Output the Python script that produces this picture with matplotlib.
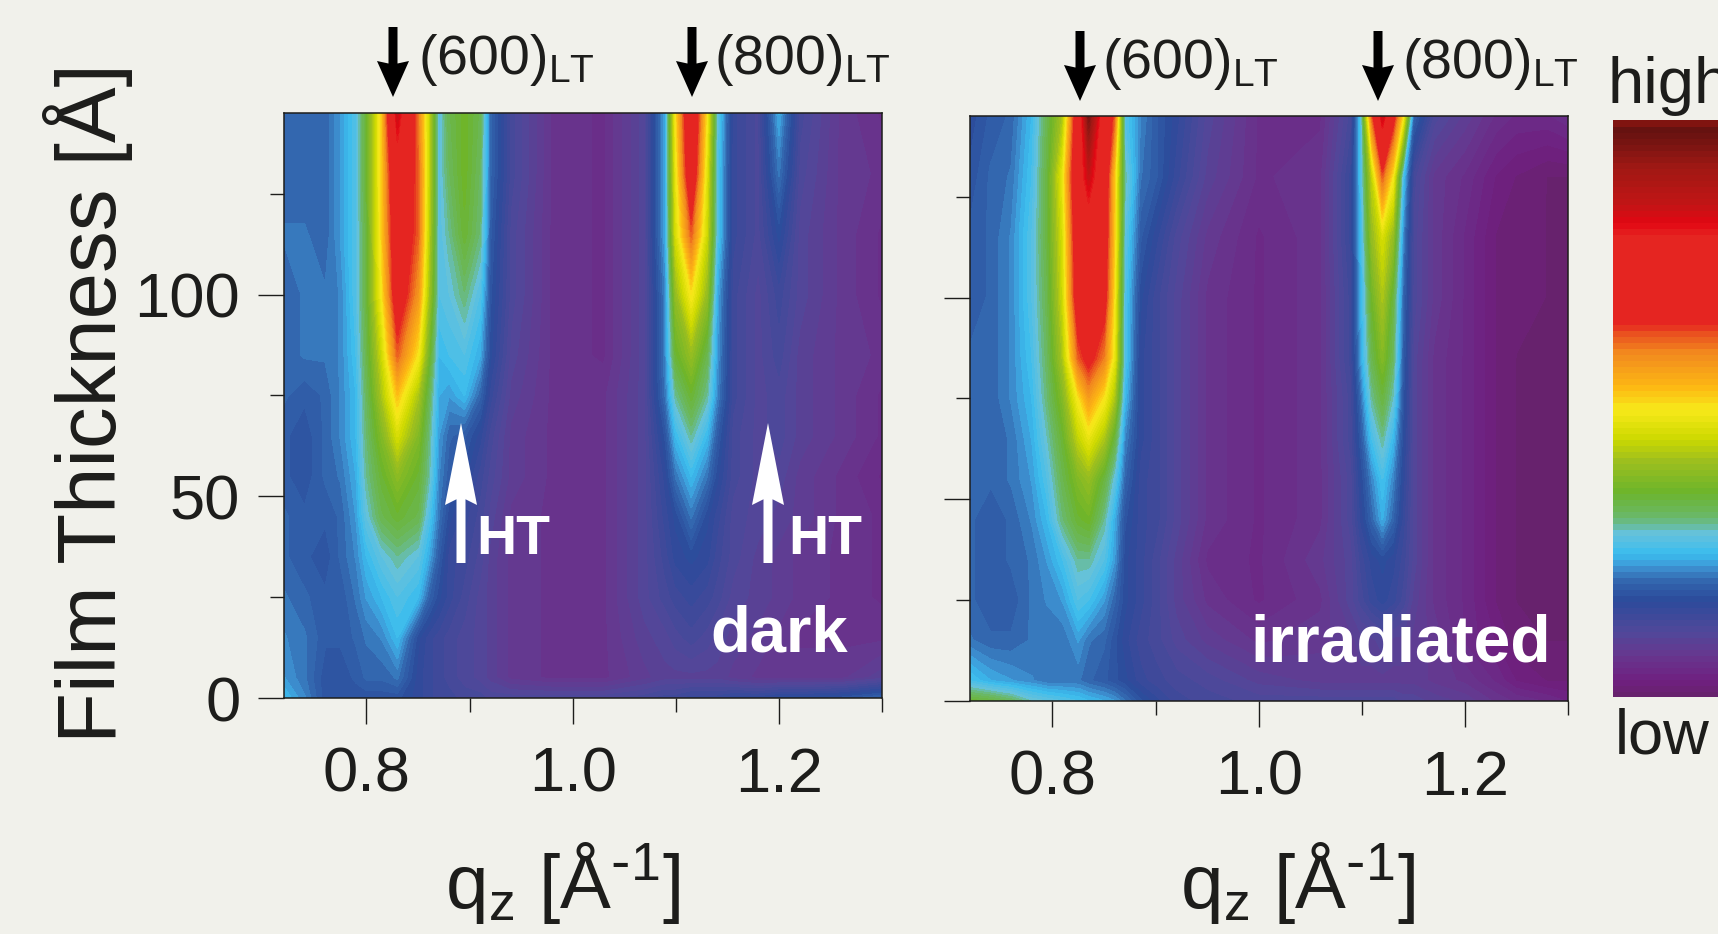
import numpy as np
import matplotlib
matplotlib.use("Agg")
import matplotlib.pyplot as plt
from matplotlib.colors import LinearSegmentedColormap
from matplotlib.patches import Polygon

plt.rcParams['font.family'] = ['Liberation Sans', 'DejaVu Sans']
plt.rcParams['mathtext.default'] = 'regular'

BG = '#f1f1eb'
INK = '#1d1d1b'

thickness = [0, 5, 15, 25, 35, 45, 55, 65, 75, 85, 100, 115, 130, 145]

q_dark = [.72, .74, .76, .775, .79, .80, .815, .83, .85, .86, .87, .88, .895, .91, .92, .94, .98, 1.03, 1.07, 1.09, 1.10, 1.115, 1.13, 1.14, 1.155, 1.18, 1.20, 1.22, 1.26, 1.30]
dark_000 = [.25, .22, .18, .18, .18, .18, .18, .18, .16, .15, .14, .14, .13, .13, .12, .12, .12, .12, .13, .14, .14, .15, .15, .15, .16, .16, .17, .17, .18, .20]
dark_005 = [.23, .21, .18, .18, .19, .20, .20, .21, .16, .15, .14, .13, .12, .11, .10, .08, .07, .07, .09, .10, .10, .10, .10, .10, .09, .08, .08, .08, .08, .10]
dark_015 = [.22, .21, .19, .19, .20, .21, .22, .25, .17, .15, .14, .13, .12, .11, .10, .08, .07, .07, .10, .11, .12, .13, .12, .11, .10, .09, .08, .07, .07, .07]
dark_025 = [.21, .20, .19, .19, .21, .23, .25, .27, .25, .20, .17, .15, .13, .11, .10, .08, .07, .07, .11, .13, .14, .15, .14, .13, .11, .10, .09, .08, .07, .06]
dark_035 = [.20, .19, .18, .20, .22, .25, .28, .30, .28, .24, .19, .15, .14, .12, .10, .08, .07, .07, .11, .14, .16, .17, .16, .14, .12, .10, .09, .08, .07, .06]
dark_045 = [.20, .19, .19, .20, .23, .28, .33, .35, .33, .27, .21, .17, .15, .13, .11, .08, .07, .07, .11, .15, .17, .21, .17, .15, .12, .11, .10, .09, .07, .06]
dark_055 = [.19, .18, .20, .21, .24, .30, .35, .39, .35, .30, .22, .19, .17, .14, .12, .09, .07, .07, .11, .16, .21, .25, .21, .17, .13, .11, .11, .09, .07, .05]
dark_065 = [.19, .18, .20, .22, .25, .31, .38, .46, .38, .31, .23, .20, .19, .16, .13, .09, .07, .07, .11, .18, .25, .30, .25, .19, .13, .11, .12, .10, .08, .06]
dark_075 = [.20, .19, .20, .22, .25, .32, .42, .53, .42, .33, .24, .23, .25, .20, .15, .10, .07, .07, .11, .21, .30, .35, .30, .22, .14, .11, .12, .10, .08, .06]
dark_085 = [.20, .21, .21, .22, .26, .33, .45, .62, .50, .37, .25, .26, .27, .24, .17, .11, .07, .06, .11, .22, .35, .40, .33, .23, .14, .11, .13, .10, .08, .07]
dark_100 = [.20, .21, .21, .22, .27, .34, .50, .70, .58, .42, .27, .28, .31, .27, .18, .12, .07, .06, .11, .22, .40, .50, .40, .24, .14, .11, .14, .11, .08, .06]
dark_115 = [.21, .21, .20, .23, .27, .34, .52, .72, .62, .44, .27, .30, .35, .31, .19, .12, .07, .06, .11, .24, .46, .62, .45, .27, .15, .12, .17, .11, .08, .06]
dark_130 = [.20, .20, .20, .23, .27, .35, .52, .75, .62, .45, .27, .32, .36, .32, .20, .13, .07, .06, .11, .24, .48, .72, .47, .27, .15, .12, .21, .12, .08, .07]
dark_145 = [.20, .20, .20, .23, .27, .35, .52, .85, .60, .45, .27, .33, .36, .33, .20, .13, .07, .06, .11, .24, .50, .75, .50, .28, .15, .12, .24, .13, .08, .06]

q_irr = [.72, .74, .76, .78, .795, .81, .825, .835, .85, .86, .87, .885, .90, .92, .95, 1.0, 1.06, 1.09, 1.10, 1.11, 1.12, 1.13, 1.14, 1.15, 1.17, 1.20, 1.23, 1.25, 1.28, 1.30]
irr_000 = [.35, .34, .32, .29, .28, .27, .26, .25, .24, .23, .21, .18, .16, .14, .13, .12, .12, .12, .12, .12, .12, .12, .11, .11, .10, .09, .07, .06, .05, .04]
irr_005 = [.26, .24, .23, .22, .21, .21, .21, .20, .19, .18, .17, .15, .14, .13, .12, .10, .09, .09, .09, .09, .09, .09, .09, .09, .08, .07, .05, .03, .02, .02]
irr_015 = [.21, .20, .20, .21, .21, .21, .23, .21, .20, .18, .16, .14, .13, .11, .09, .07, .08, .09, .10, .10, .11, .10, .10, .09, .08, .05, .03, .015, .01, .01]
irr_025 = [.20, .19, .19, .21, .22, .23, .27, .26, .23, .20, .17, .15, .13, .10, .07, .05, .07, .11, .13, .15, .16, .15, .13, .10, .07, .05, .02, .01, .01, .01]
irr_035 = [.20, .19, .20, .21, .23, .26, .30, .30, .27, .23, .17, .15, .13, .10, .06, .05, .08, .11, .14, .16, .17, .16, .14, .11, .07, .05, .02, .01, .01, .01]
irr_045 = [.20, .19, .20, .22, .25, .31, .35, .36, .30, .24, .18, .15, .14, .11, .07, .05, .07, .12, .16, .20, .24, .20, .15, .11, .07, .05, .02, .01, .01, .01]
irr_055 = [.20, .20, .21, .23, .27, .33, .38, .40, .34, .28, .20, .15, .14, .11, .07, .05, .07, .12, .17, .22, .26, .22, .16, .11, .07, .05, .02, .01, .01, .01]
irr_065 = [.20, .20, .21, .24, .29, .35, .44, .48, .42, .34, .22, .16, .14, .11, .07, .05, .07, .13, .19, .26, .30, .25, .17, .11, .07, .05, .02, .01, .01, .01]
irr_075 = [.20, .20, .22, .25, .31, .38, .50, .57, .50, .42, .25, .16, .14, .11, .07, .05, .07, .13, .21, .30, .34, .29, .18, .11, .07, .05, .02, .01, .01, .01]
irr_085 = [.20, .20, .22, .26, .32, .42, .62, .67, .60, .48, .27, .16, .14, .11, .07, .05, .07, .14, .24, .33, .38, .32, .19, .11, .07, .05, .02, .01, .01, .01]
irr_100 = [.19, .20, .22, .27, .33, .45, .70, .72, .68, .50, .27, .17, .14, .11, .07, .05, .07, .14, .25, .36, .42, .34, .20, .12, .08, .05, .02, .015, .01, .01]
irr_115 = [.19, .20, .22, .27, .34, .46, .72, .74, .70, .52, .28, .19, .16, .12, .08, .05, .07, .15, .26, .40, .46, .40, .22, .12, .08, .05, .02, .015, .01, .01]
irr_130 = [.18, .20, .21, .26, .34, .48, .75, .85, .72, .52, .30, .21, .19, .15, .10, .06, .07, .15, .27, .44, .62, .50, .26, .13, .08, .06, .03, .02, .01, .01]
irr_145 = [.17, .19, .20, .25, .33, .42, .72, .96, .74, .62, .27, .22, .19, .16, .11, .06, .06, .13, .28, .62, .85, .68, .50, .20, .12, .09, .06, .05, .05, .06]

stops = [(0, '#66226a'), (.03, '#6f2080'), (.075, '#66388f'), (.115, '#50489a'),
         (.17, '#2b4b9b'), (.205, '#3368b0'), (.228, '#3f96d5'), (.25, '#3abcee'),
         (.285, '#65c2dc'), (.312, '#6ab86c'), (.357, '#6cb42b'), (.412, '#9ebf1e'),
         (.45, '#cdd900'), (.50, '#f7e91a'), (.537, '#fdb913'), (.597, '#f28a1e'),
         (.638, '#e8431f'), (.648, '#e52521'), (.80, '#e52521'), (.823, '#e30613'),
         (.855, '#c21515'), (.92, '#a01814'), (.985, '#631210'), (1, '#8a1510')]
cmap = LinearSegmentedColormap.from_list('xrd', stops, N=512)
levels = np.linspace(0, 1, 97)

W, H = 1718, 934
fig = plt.figure(figsize=(W / 100, H / 100), dpi=100, facecolor=BG)


def box(x0, y0, x1, y1):
    return [x0 / W, 1 - y1 / H, (x1 - x0) / W, (y1 - y0) / H]


def ftext(x, y, s, **kw):
    kw.setdefault('color', INK)
    return fig.text(x / W, 1 - y / H, s, **kw)


def arrow(tip_x, tip_y, tail_y, head_len, color):
    sgn = 1 if tail_y < tip_y else -1
    hw, sw = 16, 4.5
    pts = [(tip_x, tip_y), (tip_x - hw, tip_y - sgn * head_len), (tip_x - sw, tip_y - sgn * head_len * .93),
           (tip_x - sw, tail_y), (tip_x + sw, tail_y), (tip_x + sw, tip_y - sgn * head_len * .93),
           (tip_x + hw, tip_y - sgn * head_len)]
    fig.add_artist(Polygon([(x / W, 1 - y / H) for x, y in pts], closed=True, transform=fig.transFigure,
                           facecolor=color, edgecolor='none', zorder=5))


def fill(ax, x, y, z):
    cs = ax.contourf(x, y, z, levels=levels, cmap=cmap, vmin=0, vmax=1)
    cs.set_edgecolor('face')
    cs.set_linewidth(0.4)
    return cs


def panel(rect, q, rows, show_y):
    ax = fig.add_axes(box(*rect))
    fill(ax, q, thickness, np.array(rows))
    ax.set_xlim(.72, 1.30)
    ax.set_ylim(0, 145)
    ax.set_xticks([.8, 1.0, 1.2], ['0.8', '1.0', '1.2'])
    ax.set_xticks([.9, 1.1, 1.3], minor=True)
    ax.set_yticks([0, 50, 100], ['0', '50', '100'] if show_y else [])
    ax.set_yticks([25, 75, 125], minor=True)
    ax.tick_params(which='major', length=18.5, width=1.0, color=INK, labelsize=45.5, labelcolor=INK)
    ax.tick_params(which='minor', length=10, width=1.0, color=INK)
    ax.tick_params(axis='x', which='major', pad=16)
    ax.tick_params(axis='y', which='major', pad=13)
    for s in ax.spines.values():
        s.set_color(INK)
        s.set_linewidth(1.1)
    return ax


rows_dark = [dark_000, dark_005, dark_015, dark_025, dark_035, dark_045, dark_055, dark_065, dark_075, dark_085, dark_100, dark_115, dark_130, dark_145]
rows_irr = [irr_000, irr_005, irr_015, irr_025, irr_035, irr_045, irr_055, irr_065, irr_075, irr_085, irr_100, irr_115, irr_130, irr_145]

panel((284, 113, 882, 698), q_dark, rows_dark, True)
panel((970, 116, 1568, 701), q_irr, rows_irr, False)

# colour bar
cax = fig.add_axes(box(1613, 120, 1718, 697))
ramp = np.linspace(0, 1, 193)
fill(cax, [0, 1], ramp, np.tile(ramp[:, None], (1, 2)))
cax.axis('off')

# labels
ftext(88, 403, 'Film Thickness [Å]', fontsize=60, rotation=90, ha='center', va='center')
label = 'q$_{z}$ [Å$^{\\text{-}1}$]'
ftext(562, 883, label, fontsize=55, ha='center', va='center')
ftext(1297, 883, label, fontsize=55, ha='center', va='center')
ftext(1608, 103, 'high', fontsize=47, ha='left', va='baseline')
ftext(1615, 753, 'low', fontsize=45.5, ha='left', va='baseline')

peak = '(600)$_{LT}$'
peak2 = '(800)$_{LT}$'
ftext(418, 74, peak, fontsize=40, ha='left', va='baseline')
ftext(714, 74, peak2, fontsize=40, ha='left', va='baseline')
ftext(1102, 78, peak, fontsize=40, ha='left', va='baseline')
ftext(1402, 78, peak2, fontsize=40, ha='left', va='baseline')

arrow(393, 97, 27, 36, 'black')
arrow(692, 97, 27, 36, 'black')
arrow(1080, 101, 31, 36, 'black')
arrow(1378, 101, 31, 36, 'black')
arrow(461, 423, 563, 82, 'white')
arrow(768, 423, 563, 82, 'white')

ftext(476, 554, 'HT', fontsize=40, fontweight='bold', color='white', ha='left', va='baseline', zorder=6)
ftext(788, 554, 'HT', fontsize=40, fontweight='bold', color='white', ha='left', va='baseline', zorder=6)
ftext(710, 651, 'dark', fontsize=47, fontweight='bold', color='white', ha='left', va='baseline', zorder=6)
ftext(1250, 661, 'irradiated', fontsize=47.5, fontweight='bold', color='white', ha='left', va='baseline', zorder=6)

fig.savefig('out.png', dpi=100, facecolor=BG)
